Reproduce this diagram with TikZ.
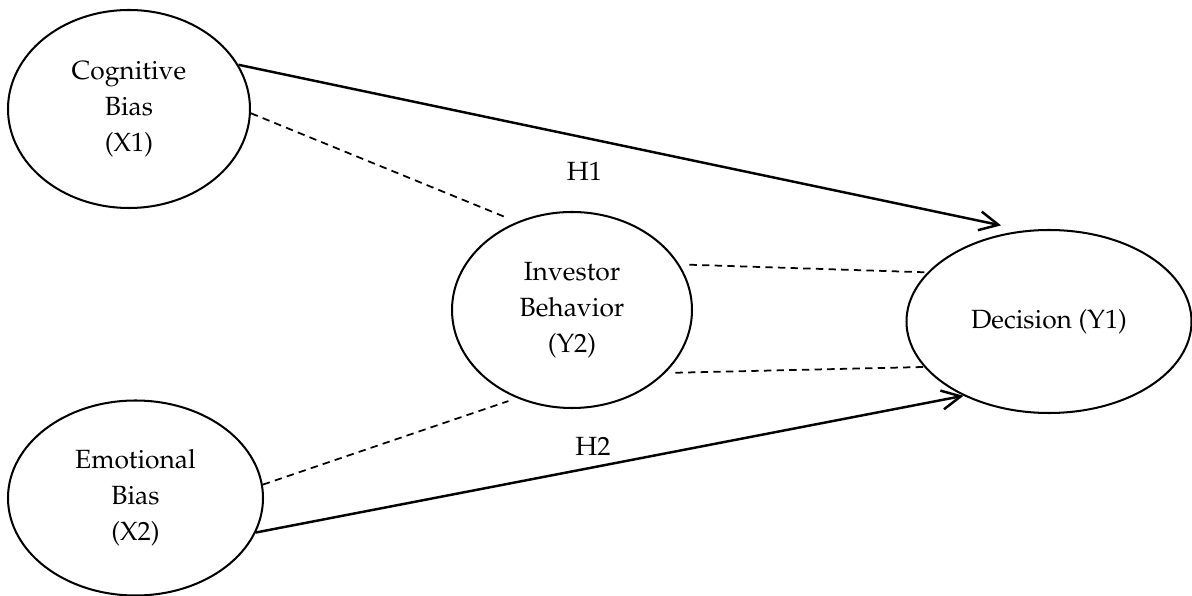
\documentclass[tikz,border=0pt]{standalone}
\usepackage[T1]{fontenc}
\usepackage{mathpazo}
\usetikzlibrary{arrows.meta,shapes.geometric}

\begin{document}
\begin{tikzpicture}[
  construct/.style={draw, ellipse, line width=1.15pt, inner sep=0pt, align=center, font=\fontsize{15}{20.5}\selectfont},
  effect/.style={-{Straight Barb[length=0.38cm, width=0.38cm]}, line width=1.4pt},
  mediation/.style={dash pattern=on 4.2pt off 3pt, line width=1pt},
  hyp/.style={font=\fontsize{15}{18}\selectfont}
]
  \useasboundingbox (0,0) rectangle (23.84,11.92);

  % Independent variables
  \node[construct, minimum width=4.84cm, minimum height=3.96cm] (cog) at (2.58,9.74) {Cognitive\\Bias\\(X1)};
  \node[construct, minimum width=5.10cm, minimum height=3.90cm] (emo) at (2.71,1.96) {Emotional\\Bias\\(X2)};

  % Mediator
  \node[construct, minimum width=4.80cm, minimum height=3.92cm] (inv) at (11.44,5.72) {Investor\\Behavior\\(Y2)};

  % Dependent variable
  \node[construct, minimum width=5.70cm, minimum height=3.66cm] (dec) at (20.98,5.49) {Decision (Y1)};

  % Direct effects
  \draw[effect, shorten >=0.48cm] (cog.22) -- (dec.105);
  \draw[effect] (emo.-16) -- (dec.221);

  %--- Mediated paths ---
  \draw[mediation, shorten >=0.18cm] (cog.-2) -- (inv.122);
  \draw[mediation, shorten >=0.18cm] (emo.6) -- (inv.238);
  \draw[mediation, shorten <=0.2cm] (inv.23) -- (dec.158);
  \draw[mediation, shorten <=0.2cm] (inv.-34) -- (dec.200);

  %--- Hypotheses ---
  \node[hyp] (h1) at (11.69,8.50) {H1};
  \node[hyp] (h2) at (11.86,3.00) {H2};
\end{tikzpicture}
\end{document}
